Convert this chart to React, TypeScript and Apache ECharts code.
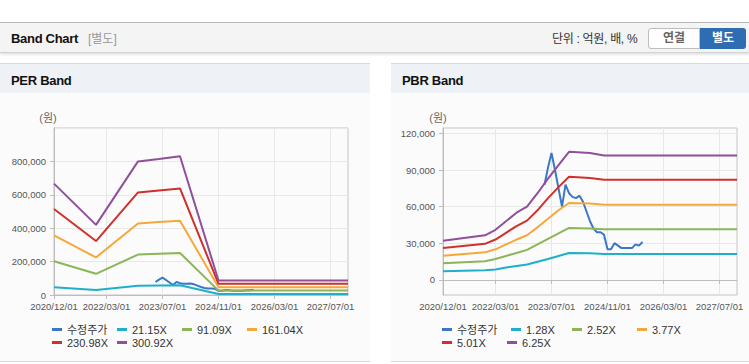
import React, { useEffect, useRef } from 'react';
import * as echarts from 'echarts';

// ---------- categories (monthly, 2020/12 .. 2027/12) ----------
const FIRST_YEAR = 2020;
const FIRST_MONTH = 12;
const MONTH_COUNT = 85;
const months: string[] = [];
for (let i = 0; i < MONTH_COUNT; i++) {
  const t = FIRST_MONTH - 1 + i;
  const y = FIRST_YEAR + Math.floor(t / 12);
  const m = (t % 12) + 1;
  months.push(`${y}/${String(m).padStart(2, '0')}/01`);
}
const tickDates = ['2020/12/01', '2022/03/01', '2023/07/01', '2024/11/01', '2026/03/01', '2027/07/01'];

// ---------- series ----------
const perNames = ['수정주가', '21.15X', '91.09X', '161.04X', '230.98X', '300.92X'];
const pbrNames = ['수정주가', '1.28X', '2.52X', '3.77X', '5.01X', '6.25X'];
const colors = ['#3b77c7', '#1eb0c8', '#8db456', '#f5a83a', '#d0302c', '#8f4f9b'];

const price: [string, number][] = [
  ['2023/05/01', 78000], ['2023/06/01', 92000], ['2023/07/01', 104000], ['2023/08/01', 90000],
  ['2023/09/01', 75000], ['2023/10/01', 60000], ['2023/11/01', 78000], ['2023/12/01', 71000],
  ['2024/01/01', 68000], ['2024/02/01', 67000], ['2024/03/01', 69000], ['2024/04/01', 64000],
  ['2024/05/01', 56000], ['2024/06/01', 48000], ['2024/07/01', 42000], ['2024/08/01', 39000],
  ['2024/09/01', 39000], ['2024/10/01', 37000], ['2024/11/01', 25000], ['2024/12/01', 25000],
  ['2025/01/01', 30000], ['2025/02/01', 28000], ['2025/03/01', 26000], ['2025/04/01', 26000],
  ['2025/05/01', 26000], ['2025/06/01', 26000], ['2025/07/01', 29000], ['2025/08/01', 28000],
  ['2025/09/01', 31000],
];

// PER band breakpoints
const per21: [string, number][] = [
  ['2020/12/01', 47000], ['2021/12/01', 29500], ['2022/12/01', 56000], ['2023/06/01', 57500],
  ['2023/12/01', 58500], ['2024/11/01', 6100], ['2027/12/01', 6100],
];
const per91: [string, number][] = [
  ['2020/12/01', 202000], ['2021/12/01', 127000], ['2022/12/01', 242000], ['2023/06/01', 247000],
  ['2023/12/01', 252000], ['2024/11/01', 26300], ['2027/12/01', 26300],
];
const per161: [string, number][] = [
  ['2020/12/01', 357000], ['2021/12/01', 225000], ['2022/12/01', 428000], ['2023/06/01', 437000],
  ['2023/12/01', 445000], ['2024/11/01', 46500], ['2027/12/01', 46500],
];
const per230: [string, number][] = [
  ['2020/12/01', 515000], ['2021/12/01', 323000], ['2022/12/01', 614000], ['2023/06/01', 626000],
  ['2023/12/01', 638000], ['2024/11/01', 67000], ['2027/12/01', 67000],
];
const per300: [string, number][] = [
  ['2020/12/01', 667000], ['2021/12/01', 420000], ['2022/12/01', 800000], ['2023/06/01', 815000],
  ['2023/12/01', 831000], ['2024/11/01', 87000], ['2027/12/01', 87000],
];

// PBR band breakpoints
const pbr128: [string, number][] = [
  ['2020/12/01', 7000], ['2021/12/01', 7800], ['2022/03/01', 8500], ['2022/06/01', 10000],
  ['2022/09/01', 11300], ['2022/12/01', 12500], ['2023/03/01', 14800], ['2023/06/01', 17000],
  ['2023/09/01', 19500], ['2023/12/01', 22000], ['2024/06/01', 21800], ['2024/10/01', 21200],
  ['2027/12/01', 21200],
];
const pbr252: [string, number][] = [
  ['2020/12/01', 13500], ['2021/12/01', 15200], ['2022/03/01', 17000], ['2022/06/01', 19500],
  ['2022/09/01', 22000], ['2022/12/01', 24500], ['2023/03/01', 29000], ['2023/06/01', 33500],
  ['2023/09/01', 38000], ['2023/12/01', 42500], ['2024/06/01', 42000], ['2024/10/01', 41500],
  ['2027/12/01', 41500],
];
const pbr377: [string, number][] = [
  ['2020/12/01', 19700], ['2021/12/01', 22500], ['2022/03/01', 25000], ['2022/06/01', 29000],
  ['2022/09/01', 33000], ['2022/12/01', 36500], ['2023/03/01', 43000], ['2023/06/01', 50000],
  ['2023/09/01', 57000], ['2023/12/01', 63000], ['2024/06/01', 62500], ['2024/10/01', 61500],
  ['2027/12/01', 61500],
];
const pbr501: [string, number][] = [
  ['2020/12/01', 26000], ['2021/12/01', 29500], ['2022/03/01', 33000], ['2022/06/01', 38500],
  ['2022/09/01', 44000], ['2022/12/01', 48500], ['2023/03/01', 57000], ['2023/06/01', 67000],
  ['2023/09/01', 76000], ['2023/12/01', 84500], ['2024/06/01', 83500], ['2024/10/01', 82000],
  ['2027/12/01', 82000],
];
const pbr625: [string, number][] = [
  ['2020/12/01', 32000], ['2021/12/01', 36500], ['2022/03/01', 41000], ['2022/06/01', 48000],
  ['2022/09/01', 55000], ['2022/12/01', 60000], ['2023/03/01', 71000], ['2023/06/01', 83000],
  ['2023/09/01', 94000], ['2023/12/01', 105000], ['2024/06/01', 104000], ['2024/10/01', 102000],
  ['2027/12/01', 102000],
];

const perYTicks = [0, 200000, 400000, 600000, 800000, 1000000];
const pbrYTicks = [0, 30000, 60000, 90000, 120000];

const FONT = "'Liberation Sans', Arial, 'Noto Sans CJK KR', sans-serif";
const tickIdx = tickDates.map((d) => months.indexOf(d));
const showAt = (i: number) => tickIdx.indexOf(i) >= 0;
const fmt = (v: number) => v.toLocaleString('en-US');

function makeOption(
  names: string[],
  data: [string, number][][],
  yAxis: any,
  gridLeft: number,
  legendLeft: number[],
  unitX: number
) {
  const legendTop = [231, 231, 231, 231, 244, 244];
  return {
    animation: false,
    graphic: [
      {
        type: 'text',
        x: unitX,
        y: 25,
        style: { text: '(원)', fill: '#666', font: `11px ${FONT}`, align: 'center', verticalAlign: 'middle' },
      },
    ],
    grid: {
      left: gridLeft,
      top: 35,
      width: 294,
      height: 167,
      show: true,
      borderColor: '#c4c4c4',
      borderWidth: 1,
      backgroundColor: 'transparent',
    },
    legend: names.map((n, i) => ({
      data: [n],
      left: legendLeft[i],
      top: legendTop[i],
      padding: 0,
      itemWidth: 10,
      itemHeight: 3,
      icon: 'rect',
      selectedMode: false,
      textStyle: { fontSize: 11, color: '#333', fontFamily: FONT },
    })),
    xAxis: {
      type: 'category',
      data: months,
      boundaryGap: false,
      axisLine: { lineStyle: { color: '#bdbdbd' } },
      axisTick: { interval: (i: number) => showAt(i), length: 4, lineStyle: { color: '#bdbdbd' } },
      axisLabel: {
        interval: (i: number) => showAt(i),
        fontSize: 9.5,
        color: '#555',
        margin: 7,
        fontFamily: FONT,
      },
      splitLine: { show: true, interval: (i: number) => showAt(i), lineStyle: { color: '#e8e8e8' } },
    },
    yAxis: {
      type: 'value',
      ...yAxis,
      axisLine: { show: true, lineStyle: { color: '#bdbdbd' } },
      axisTick: { show: true, length: 4, lineStyle: { color: '#bdbdbd' }, ...(yAxis.axisTick || {}) },
      axisLabel: {
        fontSize: 9.5,
        color: '#555',
        margin: 8,
        fontFamily: FONT,
        formatter: (v: number) => fmt(v),
        ...(yAxis.axisLabel || {}),
      },
      splitLine: { show: true, lineStyle: { color: '#e8e8e8' } },
    },
    series: names.map((n, i) => ({
      type: 'line',
      name: n,
      data: data[i],
      symbol: 'none',
      showSymbol: false,
      connectNulls: true,
      lineStyle: { width: 2, color: colors[i] },
      itemStyle: { color: colors[i] },
    })),
  };
}

function EChart({ option, style }: { option: any; style: React.CSSProperties }) {
  const ref = useRef<HTMLDivElement>(null);
  useEffect(() => {
    if (!ref.current) return;
    const chart = echarts.init(ref.current, undefined, { renderer: 'svg' });
    chart.setOption(option);
    return () => chart.dispose();
  }, [option]);
  return <div ref={ref} style={style} />;
}

const perOption = makeOption(
  perNames,
  [price, per21, per91, per161, per230, per300],
  {
    min: 0,
    max: 1000000,
    interval: 200000,
    axisLabel: { showMaxLabel: false },
  },
  54,
  [52, 117, 182, 247, 52, 117],
  48
);

const pbrOption = makeOption(
  pbrNames,
  [price, pbr128, pbr252, pbr377, pbr501, pbr625],
  {
    min: -12500,
    max: 124500,
    axisLabel: { customValues: pbrYTicks },
    axisTick: { customValues: pbrYTicks },
  },
  52,
  [51, 120, 181, 246, 51, 116],
  47
);

void perYTicks;

const abs = (s: React.CSSProperties): React.CSSProperties => ({ position: 'absolute', ...s });

export default function App() {
  return (
    <div
      style={abs({
        left: 0,
        top: 0,
        width: 749,
        height: 364,
        background: '#fff',
        overflow: 'hidden',
        fontFamily: FONT,
      })}
    >
      {/* top header bar */}
      <div style={abs({ left: 0, top: 22, width: 749, height: 1, background: '#b8b8b8' })} />
      <div
        style={abs({
          left: 0,
          top: 23,
          width: 749,
          height: 29,
          background: '#f4f4f4',
          borderBottom: '1px solid #d2d2d2',
          boxShadow: '0 2px 2px rgba(0,0,0,0.10)',
        })}
      />
      <div style={abs({ left: 11, top: 30, fontSize: 13, fontWeight: 'bold', color: '#111', letterSpacing: -0.3, lineHeight: '17px' })}>
        Band Chart
      </div>
      <div style={abs({ left: 88, top: 31, fontSize: 12, color: '#999', lineHeight: '16px' })}>[별도]</div>
      <div style={abs({ left: 552, top: 31, fontSize: 12, color: '#333', lineHeight: '16px', letterSpacing: -0.3 })}>
        단위 : 억원, 배, %
      </div>
      <div
        style={abs({
          left: 648,
          top: 28,
          width: 50,
          height: 19,
          background: '#fff',
          border: '1px solid #bdbdbd',
          borderRadius: '3px 0 0 3px',
          color: '#666',
          fontSize: 12,
          fontWeight: 'bold',
          textAlign: 'center',
          lineHeight: '19px',
        })}
      >
        연결
      </div>
      <div
        style={abs({
          left: 700,
          top: 28,
          width: 46,
          height: 21,
          background: '#2e6db2',
          borderRadius: '0 3px 3px 0',
          color: '#fff',
          fontSize: 12,
          fontWeight: 'bold',
          textAlign: 'center',
          lineHeight: '21px',
        })}
      >
        별도
      </div>

      {/* left panel */}
      <div style={abs({ left: 0, top: 63, width: 370, height: 1, background: '#d8d8d8' })} />
      <div style={abs({ left: 0, top: 64, width: 370, height: 29, background: '#eef1f6' })} />
      <div style={abs({ left: 11, top: 72, fontSize: 13, fontWeight: 'bold', color: '#111', letterSpacing: -0.3, lineHeight: '17px' })}>
        PER Band
      </div>
      <div style={abs({ left: 0, top: 93, width: 370, height: 268, background: '#fbfbfb' })} />
      <div style={abs({ left: 0, top: 361, width: 370, height: 1, background: '#d8d8d8' })} />
      <EChart option={perOption} style={abs({ left: 0, top: 93, width: 370, height: 268 })} />

      {/* right panel */}
      <div style={abs({ left: 391, top: 63, width: 358, height: 1, background: '#d8d8d8' })} />
      <div style={abs({ left: 391, top: 64, width: 358, height: 29, background: '#eef1f6' })} />
      <div style={abs({ left: 402, top: 72, fontSize: 13, fontWeight: 'bold', color: '#111', letterSpacing: -0.3, lineHeight: '17px' })}>
        PBR Band
      </div>
      <div style={abs({ left: 391, top: 93, width: 358, height: 268, background: '#fbfbfb' })} />
      <div style={abs({ left: 391, top: 361, width: 358, height: 1, background: '#d8d8d8' })} />
      <EChart option={pbrOption} style={abs({ left: 391, top: 93, width: 358, height: 268 })} />
    </div>
  );
}
